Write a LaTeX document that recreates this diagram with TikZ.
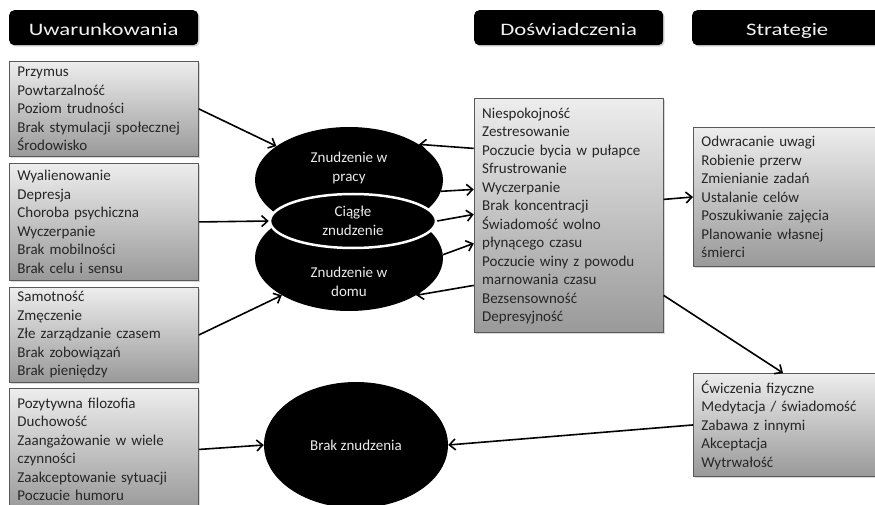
\documentclass[tikz,border=0pt]{standalone}
\usepackage{fontspec}
\setmainfont{Carlito}
\newfontfamily\headfont[FakeStretch=1.3]{Carlito}
\usetikzlibrary{shapes.geometric,arrows.meta,shadows,positioning}

\begin{document}
\begin{tikzpicture}
		[x=1pt, y=-1pt,
		head/.style = {fill=black, text=white!95!black, rounded corners=5pt, minimum height=35pt, minimum width=189pt, inner sep=0pt, text height=15pt, text depth=0pt, font=\headfont\fontsize{17.5}{21}\selectfont, drop shadow={opacity=0.3, shadow xshift=1.5pt, shadow yshift=-1.5pt}},
		list/.style = {draw=black!65, line width=0.9pt, top color=black!7, bottom color=black!40, text=black!85, anchor=north west, align=left, text width=173pt, inner xsep=8pt, inner ysep=2pt, font=\fontsize{15}{18.5}\selectfont, drop shadow={opacity=0.3, shadow xshift=1.5pt, shadow yshift=-1.5pt}},
		oval/.style = {ellipse, fill=black, inner sep=0pt, text=white!92!black, align=center, font=\fontsize{15}{18.5}\selectfont},
		ovaltext/.style = {text=white!92!black, align=center, font=\fontsize{15}{18.5}\selectfont},
		arr/.style = {-{Straight Barb[length=6pt, width=11pt]}, line width=1.6pt}]
	\useasboundingbox[fill=white] (0,0) rectangle (875,505);
	\node[head, anchor=north west] (hcond) at (9,10) {Uwarunkowania};
	\node[head, anchor=north west] (hexper) at (474,10) {Doświadczenia};
	\node[head, anchor=north west, minimum width=190pt] (hstrat) at (692,10) {Strategie};
	\node[list, minimum height=95pt] (cond1) at (9,61) {Przymus\\Powtarzalność\\Poziom trudności\\Brak stymulacji społecznej\\Środowisko};
	\node[list, minimum height=117pt] (cond2) at (9,163) {Wyalienowanie\\Depresja\\Choroba psychiczna\\Wyczerpanie\\Brak mobilności\\Brak celu i sensu};
	\node[list, minimum height=95pt] (cond3) at (9,287) {Samotność\\Zmęczenie\\Złe zarządzanie czasem\\Brak zobowiązań\\Brak pieniędzy};
	\node[list, minimum height=122pt] (cond4) at (9,388) {Pozytywna filozofia\\Duchowość\\Zaangażowanie w wiele\\czynności\\Zaakceptowanie sytuacji\\Poczucie humoru};
	\node[list, minimum height=234pt] (exper) [below=53pt of hexper] {Niespokojność\\Zestresowanie\\Poczucie bycia w pułapce\\Sfrustrowanie\\Wyczerpanie\\Brak koncentracji\\Świadomość wolno\\płynącego czasu\\Poczucie winy z powodu\\marnowania czasu\\Bezsensowność\\Depresyjność};
	\node[list, minimum height=139pt, text width=180pt] (strat1) at (693,127) {Odwracanie uwagi\\Robienie przerw\\Zmienianie zadań\\Ustalanie celów\\Poszukiwanie zajęcia\\Planowanie własnej\\śmierci};
	\node[list, minimum height=103pt, text width=180pt] (strat2) at (693,373) {Ćwiczenia fizyczne\\Medytacja / świadomość\\Zabawa z innymi\\Akceptacja\\Wytrwałość};
	\node[oval, minimum width=188pt, minimum height=106pt] (work) at (349,180) {};
	\node[oval, minimum width=188pt, minimum height=106pt] (home) at (349,258) {};
	\node[oval, draw=white, line width=2.5pt, minimum width=166pt, minimum height=54pt] (const) at (353,221) {Ciągłe\\znudzenie};
	\node[oval, minimum width=184pt, minimum height=126pt] (none) at (356,445) {Brak znudzenia};
	\node[ovaltext] (worklabel) at ([yshift=12pt]work.center) {Znudzenie w\\pracy};
	\node[ovaltext] (homelabel) at ([yshift=-24pt]home.center) {Znudzenie w\\domu};
	\draw[arr] (cond1.east) -- (work.155);
	\draw[arr] (cond2.east) -- (const.west);
	\draw[arr] (cond3.east) -- (home.209);
	\draw[arr] (cond4.east) -- (none.west);
	\draw[arr] ([yshift=-50pt]exper.north west) -- (work.27);
	\draw[arr] (work.-7) -- ([yshift=-91pt]exper.north west);
	\draw[arr] (const.east) -- ([yshift=-116pt]exper.north west);
	\draw[arr] (home.2) -- ([yshift=-145pt]exper.north west);
	\draw[arr] ([yshift=-187pt]exper.north west) -- (home.-29);
	\draw[arr] ([yshift=-101pt]exper.north east) -- (strat1.west);
	\draw[arr] ([yshift=-197pt]exper.north east) -- ([xshift=90pt]strat2.north west);
	\draw[arr] (strat2.west) -- (none.east);
	\end{tikzpicture}
\end{document}
